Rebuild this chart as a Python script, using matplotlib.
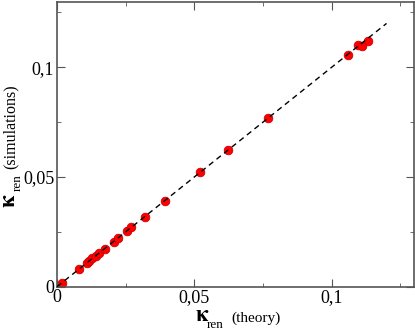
import matplotlib
matplotlib.use("Agg")
import matplotlib.pyplot as plt
from matplotlib.ticker import FixedLocator

plt.rcParams['font.family'] = ['Liberation Serif', 'DejaVu Serif']
plt.rcParams['mathtext.fontset'] = 'stix'

theory = [0.0017, 0.0080, 0.0108, 0.0118, 0.0128, 0.0141, 0.0152, 0.0173, 0.0206, 0.0223,
          0.0255, 0.0269, 0.0322, 0.0393, 0.0519, 0.0624, 0.0768, 0.1061, 0.1096, 0.1111, 0.1131]
simul = [0.0018, 0.0079, 0.0106, 0.0118, 0.0129, 0.0141, 0.0152, 0.0173, 0.0206, 0.0221,
         0.0255, 0.0270, 0.0318, 0.0392, 0.0521, 0.0621, 0.0771, 0.1055, 0.1102, 0.1095, 0.1120]
line_x = [0.0, 0.12]
tick_vals = [0, 0.05, 0.1]
tick_labels = ['0', '0,05', '0,1']

W, H = 415, 329
fig = plt.figure(figsize=(W / 100, H / 100), dpi=100)
ax = fig.add_axes([57/W, 1 - 286.7/H, (414-57)/W, (286.7-1.5)/H])

ax.plot(line_x, line_x, ls=(0, (4, 3)), color='black', lw=1.0, zorder=3)
ax.plot(theory, simul, 'o', ms=6.2, mfc='#ff0000', mec='#cc0000', mew=0.6, zorder=2)

ax.set_xlim(0, 0.13)
ax.set_ylim(0, 0.13)
ax.xaxis.set_major_locator(FixedLocator(tick_vals))
ax.yaxis.set_major_locator(FixedLocator(tick_vals))
ax.set_xticklabels(tick_labels)
ax.set_yticklabels(tick_labels)
ax.xaxis.set_minor_locator(FixedLocator([0.025, 0.075, 0.125]))
ax.yaxis.set_minor_locator(FixedLocator([0.025, 0.075, 0.125]))
ax.tick_params(which='both', direction='in', top=True, right=True, color='#555555',
               labelsize=13, pad=2)
ax.tick_params(which='major', length=6)
ax.tick_params(which='minor', length=3)
for s in ax.spines.values():
    s.set_color('#555555')
    s.set_linewidth(1.2)

kappa = r'$\mathbf{\kappa}$'
# x label
fig.text(195/W, 1 - 321/H, kappa, fontsize=16, ha='left', va='baseline')
fig.text(207/W, 1 - 327.5/H, 'ren', fontsize=9.5, ha='left', va='baseline')
fig.text(231/W, 1 - 321.5/H, '(theory)', fontsize=11, ha='left', va='baseline')
# y label
fig.text(15/W, 1 - 208/H, kappa, fontsize=16, ha='left', va='baseline',
         rotation=90, rotation_mode='anchor')
fig.text(20.5/W, 1 - 191/H, 'ren', fontsize=9.5, ha='left', va='baseline',
         rotation=90, rotation_mode='anchor')
fig.text(15/W, 1 - 169/H, '(simulations)', fontsize=11.5, ha='left', va='baseline',
         rotation=90, rotation_mode='anchor')

fig.savefig('out.png', dpi=100)
